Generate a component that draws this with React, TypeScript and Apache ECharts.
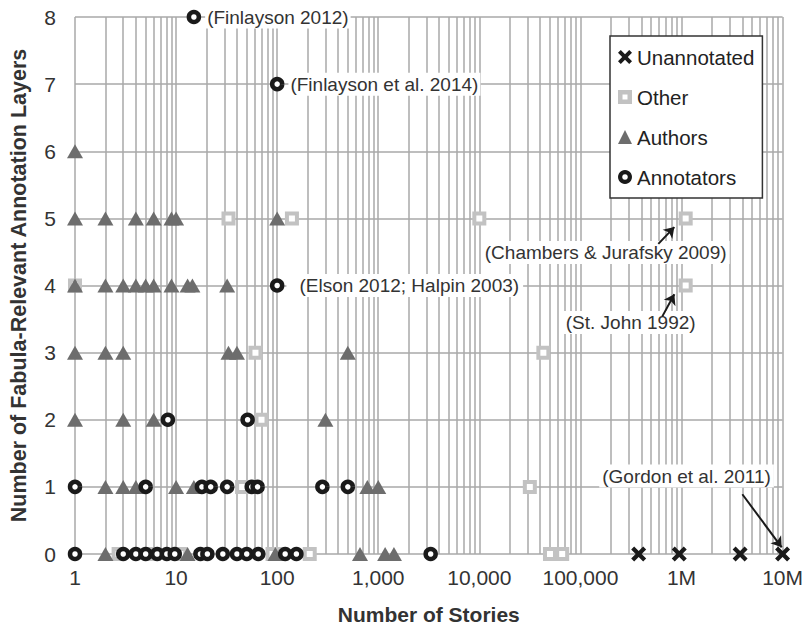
import React, { useEffect, useRef } from 'react';
import * as echarts from 'echarts';

// ---- data ----
const xTickLabels = ['1', '10', '100', '1,000', '10,000', '100,000', '1M', '10M'];
const yTickValues = [0, 1, 2, 3, 4, 5, 6, 7, 8];

const unannotated: [number, number][] = [
  [377000, 0], [950000, 0], [3800000, 0], [10000000, 0],
];

const other: [number, number][] = [
  [33, 5], [140, 5], [10000, 5], [1100000, 5],
  [1, 4], [1100000, 4],
  [61, 3], [43000, 3],
  [70, 2],
  [45, 1], [31600, 1],
  [2.7, 0], [6, 0], [11, 0], [90, 0], [110, 0], [210, 0], [50000, 0], [66000, 0],
];

const authors: [number, number][] = [
  [1, 6],
  [1, 5], [2, 5], [4, 5], [6, 5], [9, 5], [10, 5], [100, 5],
  [1, 4], [2, 4], [3, 4], [4, 4], [5, 4], [6, 4], [9, 4], [13, 4], [14.5, 4], [32, 4],
  [1, 3], [2, 3], [3, 3], [33, 3], [40, 3], [500, 3],
  [1, 2], [3, 2], [6, 2], [300, 2],
  [2, 1], [3, 1], [4, 1], [10, 1], [15, 1], [780, 1], [1000, 1],
  [2, 0], [13, 0], [96, 0], [660, 0], [1170, 0], [1430, 0],
];

const annotators: [number, number][] = [
  [15, 8], [100, 7], [100, 4],
  [8.3, 2], [51, 2],
  [1, 1], [5, 1], [18, 1], [22, 1], [32, 1], [56, 1], [64, 1], [280, 1], [500, 1],
  [1, 0], [3, 0], [4, 0], [5, 0], [6.5, 0], [8.1, 0], [9.7, 0], [17.4, 0], [20.4, 0],
  [29, 0], [40, 0], [50, 0], [65, 0], [120, 0], [155, 0], [3300, 0],
];

const noteSeries = ['Annotators', 'Annotators', 'Annotators', 'Other', 'Other', 'Unannotated'];
const noteX = [15, 100, 100, 1100000, 1100000, 10000000];
const noteY = [8, 7, 4, 5, 4, 0];
const noteText = [
  '(Finlayson 2012)',
  '(Finlayson et al. 2014)',
  '(Elson 2012; Halpin 2003)',
  '(Chambers & Jurafsky 2009)',
  '(St. John 1992)',
  '(Gordon et al. 2011)',
];
// arrows in data units
const arrowFrom: [number, number][] = [[590000, 4.62], [646000, 3.54], [4000000, 0.89]];
const arrowTo: [number, number][] = [[850000, 4.87], [850000, 3.87], [9800000, 0.1]];

// ---- styling ----
const FONT = '"Liberation Sans", Arial, sans-serif';
const GRID = '#a8a8a8';

const noteLabelStyles: any[] = [
  { position: 'right', distance: 4, padding: [2, 2, 2, 2] },
  { position: 'right', distance: 4, padding: [2, 2, 2, 2] },
  { position: 'right', distance: 2, padding: [2, 4, 2, 13] },
  { position: 'inside', offset: [-80, 34], padding: [2, 3, 2, 3] },
  { position: 'inside', offset: [-55, 37], padding: [2, 3, 2, 3] },
  { position: 'inside', offset: [-96, -78], padding: [2, 3, 2, 3] },
];

function buildData(name: string, pts: [number, number][]) {
  return pts.map(([x, y]) => {
    const idx = noteText.findIndex(
      (_, i) => noteSeries[i] === name && noteX[i] === x && noteY[i] === y
    );
    if (idx < 0) return [x, y];
    return {
      value: [x, y],
      label: {
        show: true,
        formatter: noteText[idx],
        fontSize: 19,
        fontFamily: FONT,
        color: '#333',
        backgroundColor: '#fff',
        ...noteLabelStyles[idx],
      },
    };
  });
}

const minorGrid: number[] = [];
for (let k = 0; k < 7; k++) {
  for (let m = 2; m <= 9; m++) minorGrid.push(m * Math.pow(10, k));
}

const crossPath =
  'path://M2,0 L5,3 L8,0 L10,2 L7,5 L10,8 L8,10 L5,7 L2,10 L0,8 L3,5 L0,2 Z';
const ringPath =
  'path://M7,0 A7,7 0 1,1 6.99,0 Z M7,4.2 A2.8,2.8 0 1,0 7.01,4.2 Z';
const hollowSquarePath =
  'path://M0,0 L14,0 L14,14 L0,14 Z M4.5,4.5 L4.5,9.5 L9.5,9.5 L9.5,4.5 Z';

export default function App() {
  const ref = useRef<HTMLDivElement>(null);
  useEffect(() => {
    if (!ref.current) return;
    const chart = echarts.init(ref.current, undefined, { renderer: 'svg' });
    const option: any = {
      animation: false,
      backgroundColor: '#fff',
      textStyle: { fontFamily: FONT },
      grid: { left: 69, right: 20, top: 17, bottom: 73, containLabel: false },
      xAxis: {
        type: 'log',
        logBase: 10,
        min: 1,
        max: 10000000,
        name: 'Number of Stories',
        nameLocation: 'middle',
        nameGap: 50,
        nameTextStyle: { fontSize: 21, fontWeight: 'bold', color: '#333', fontFamily: FONT },
        axisLine: { show: false },
        axisTick: { show: false },
        axisLabel: {
          fontSize: 21,
          color: '#333',
          margin: 13,
          fontFamily: FONT,
          formatter: (v: number) => xTickLabels[Math.round(Math.log10(v))] ?? '',
        },
        splitLine: { show: true, lineStyle: { color: GRID, width: 1.5 } },
      },
      yAxis: {
        type: 'value',
        min: 0,
        max: 8,
        interval: 1,
        name: 'Number of Fabula-Relevant Annotation Layers',
        nameLocation: 'middle',
        nameRotate: 90,
        nameGap: 45,
        nameTextStyle: { fontSize: 21.5, fontWeight: 'bold', color: '#333', fontFamily: FONT },
        axisLine: { show: false },
        axisTick: { show: false },
        axisLabel: {
          fontSize: 21,
          color: '#333',
          margin: 19,
          fontFamily: FONT,
          formatter: (v: number) => (yTickValues.includes(v) ? String(v) : ''),
        },
        splitLine: { show: true, lineStyle: { color: GRID, width: 1.5 } },
      },
      legend: {
        data: [
          { name: 'Unannotated' },
          { name: 'Other', icon: hollowSquarePath, itemStyle: { color: '#c2c2c2', borderWidth: 0 } },
          { name: 'Authors' },
          { name: 'Annotators', icon: ringPath, itemStyle: { color: '#1a1a1a', borderWidth: 0 } },
        ],
        orient: 'vertical',
        left: 610,
        top: 36,
        backgroundColor: '#fff',
        borderColor: '#333',
        borderWidth: 1.5,
        borderRadius: 0,
        padding: [9, 8, 9, 8],
        itemGap: 16,
        itemWidth: 14,
        itemHeight: 14,
        textStyle: { fontSize: 20.5, color: '#222', fontFamily: FONT, lineHeight: 24 },
      },
      series: [
        {
          name: 'minorGrid',
          type: 'scatter',
          data: [],
          silent: true,
          z: 0,
          markLine: {
            silent: true,
            symbol: ['none', 'none'],
            label: { show: false },
            lineStyle: { color: GRID, width: 1.5, type: 'solid' },
            data: minorGrid.map((v) => ({ xAxis: v })),
            z: 0,
          },
        },
        {
          name: 'Other',
          type: 'scatter',
          symbol: 'rect',
          symbolSize: 10,
          clip: false,
          z: 2,
          itemStyle: { color: '#fff', borderColor: '#c2c2c2', borderWidth: 4, opacity: 1 },
          data: buildData('Other', other),
        },
        {
          name: 'Authors',
          type: 'scatter',
          symbol: 'triangle',
          symbolSize: [16, 14],
          clip: false,
          z: 3,
          itemStyle: { color: '#6d6d6d', opacity: 1 },
          data: buildData('Authors', authors),
        },
        {
          name: 'Annotators',
          type: 'scatter',
          symbol: 'circle',
          symbolSize: 10,
          clip: false,
          z: 4,
          itemStyle: { color: '#fff', borderColor: '#1a1a1a', borderWidth: 4.5, opacity: 1 },
          data: buildData('Annotators', annotators),
        },
        {
          name: 'Unannotated',
          type: 'scatter',
          symbol: crossPath,
          symbolSize: 15,
          clip: false,
          z: 5,
          itemStyle: { color: '#1a1a1a', opacity: 1 },
          data: buildData('Unannotated', unannotated),
        },
        {
          name: 'arrows',
          type: 'scatter',
          data: [],
          silent: true,
          z: 6,
          markLine: {
            silent: true,
            symbol: ['none', 'arrow'],
            symbolSize: 10,
            label: { show: false },
            lineStyle: { color: '#1a1a1a', width: 2, type: 'solid' },
            data: arrowFrom.map((f, i) => [{ coord: f }, { coord: arrowTo[i] }]),
          },
        },
      ],
    };
    chart.setOption(option);
    return () => chart.dispose();
  }, []);
  return (
    <div
      ref={ref}
      style={{ position: 'fixed', left: 0, top: 0, width: 806, height: 630 }}
    />
  );
}
